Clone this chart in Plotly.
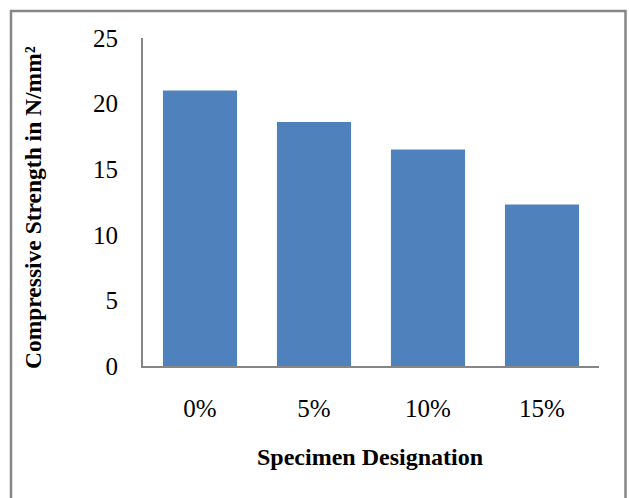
import plotly.graph_objects as go

# Compressive strength by replacement level
categories = ["0%", "5%", "10%", "15%"]
strength = [21.0, 18.6, 16.5, 12.3]
y_ticks = [0, 5, 10, 15, 20, 25]

W, H = 629, 498
L, R, T, B = 143, 30, 38, 132
plot_w = W - L - R
plot_h = H - T - B

def px_to_paper_x(px):
    return (px - L) / plot_w

def px_to_paper_y(py):
    return (H - B - py) / plot_h

axis_grey = "#868686"
serif = "Liberation Serif, Times New Roman, serif"

fig = go.Figure(
    go.Bar(
        x=categories,
        y=strength,
        marker=dict(color="#4F81BD", line=dict(width=0)),
        width=0.65,
    )
)

fig.update_layout(
    width=W,
    height=H,
    margin=dict(l=L, r=R, t=T, b=B, pad=0),
    paper_bgcolor="white",
    plot_bgcolor="white",
    showlegend=False,
    font=dict(family=serif, color="black"),
    xaxis=dict(
        showline=True,
        linecolor=axis_grey,
        linewidth=2,
        showgrid=False,
        ticks="",
        tickfont=dict(size=25, family=serif),
        ticklabelstandoff=19,
    ),
    yaxis=dict(
        range=[0, 25],
        tickvals=y_ticks,
        showline=True,
        linecolor=axis_grey,
        linewidth=2,
        showgrid=False,
        zeroline=False,
        ticks="",
        tickfont=dict(size=25, family=serif),
        ticklabelstandoff=18,
    ),
    annotations=[
        dict(
            text="<b>Specimen Designation</b>",
            xref="paper",
            yref="paper",
            x=px_to_paper_x(370),
            y=px_to_paper_y(457),
            xanchor="center",
            yanchor="middle",
            showarrow=False,
            font=dict(size=24, family=serif),
        ),
        dict(
            text="<b>Compressive Strength in N/mm²</b>",
            xref="paper",
            yref="paper",
            x=px_to_paper_x(33),
            y=px_to_paper_y(208),
            xanchor="center",
            yanchor="middle",
            textangle=-90,
            showarrow=False,
            font=dict(size=23.5, family=serif),
        ),
    ],
    shapes=[
        dict(
            type="rect",
            xref="paper",
            yref="paper",
            x0=px_to_paper_x(11),
            x1=px_to_paper_x(625.5),
            y0=px_to_paper_y(520),
            y1=px_to_paper_y(11),
            line=dict(color=axis_grey, width=2.5),
            fillcolor="rgba(0,0,0,0)",
            layer="below",
        )
    ],
)

fig.write_html("out.html")
